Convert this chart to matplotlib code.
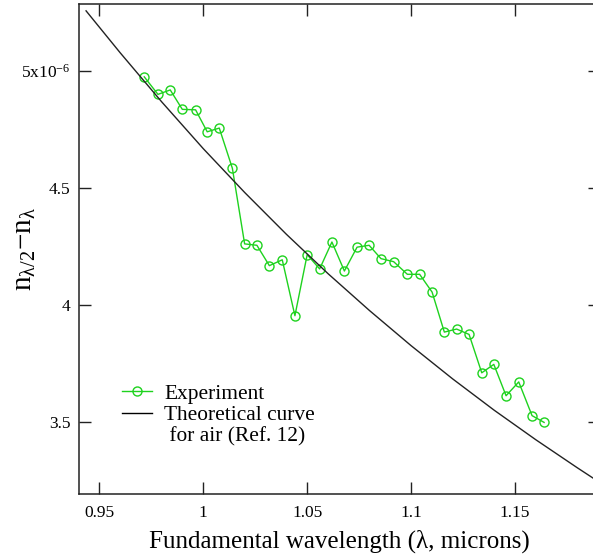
import matplotlib
matplotlib.use("Agg")
import matplotlib.pyplot as plt
from matplotlib.lines import Line2D

plt.rcParams['font.family'] = ['Liberation Serif', 'DejaVu Serif']
plt.rcParams['mathtext.fontset'] = 'custom'
plt.rcParams['mathtext.rm'] = 'Liberation Serif'
plt.rcParams['mathtext.it'] = 'Liberation Serif:italic'

# Experimental data (wavelength in microns, n_{λ/2}-n_λ in units of 1e-6)
exp_x = [0.9716, 0.9782, 0.9841, 0.9899, 0.9963, 1.0019, 1.0077, 1.0140,
         1.0199, 1.0258, 1.0318, 1.0380, 1.0441, 1.0500, 1.0560, 1.0619,
         1.0679, 1.0740, 1.0798, 1.0855, 1.0916, 1.0982, 1.1041, 1.1101,
         1.1160, 1.1219, 1.1279, 1.1340, 1.1398, 1.1457, 1.1518, 1.1582,
         1.1640]
exp_y = [4.974, 4.899, 4.918, 4.835, 4.833, 4.739, 4.755, 4.583,
         4.260, 4.254, 4.167, 4.192, 3.953, 4.214, 4.153, 4.268,
         4.144, 4.246, 4.254, 4.197, 4.184, 4.130, 4.130, 4.054,
         3.883, 3.896, 3.873, 3.709, 3.745, 3.611, 3.670, 3.526,
         3.497]

# Theoretical curve for air
theo_x = [0.9436, 0.96, 0.98, 1.00, 1.02, 1.04, 1.06, 1.08, 1.10,
          1.12, 1.14, 1.16, 1.18, 1.191]
theo_y = [5.256, 5.077, 4.867, 4.667, 4.479, 4.301, 4.133, 3.975, 3.825,
          3.683, 3.549, 3.423, 3.303, 3.239]

xticks = [0.95, 1.0, 1.05, 1.1, 1.15]
xtick_labels = ['0.95', '1', '1.05', '1.1', '1.15']
yticks = [3.5, 4.0, 4.5, 5.0]
ytick_labels = ['3.5', '4', '4.5', r'5x10$^{\mathrm{-6}}$']

W, H = 593, 556
fig = plt.figure(figsize=(W / 100, H / 100), dpi=100)
left, right, top, bottom = 79, 600, 4.3, 494
ax = fig.add_axes([left / W, 1 - bottom / H, (right - left) / W, (bottom - top) / H])

green = '#1ed21e'
ax.plot(exp_x, exp_y, color=green, lw=1.0, marker='o', ms=6.5, mfc='none',
        mec=green, mew=1.0)
ax.plot(theo_x, theo_y, color='#222222', lw=1.0)

ax.set_xlim(0.9402, 1.1909)
ax.set_ylim(3.191, 5.284)

ax.set_xticks(xticks)
ax.set_xticklabels(xtick_labels)
ax.set_yticks(yticks)
ax.set_yticklabels(ytick_labels)

ax.tick_params(direction='in', length=8.5, width=1.0, labelsize=12.5,
               top=True, right=True, color='#222222')
ax.tick_params(axis='x', pad=8)
ax.tick_params(axis='y', pad=6)
for s in ax.spines.values():
    s.set_linewidth(1.1)
    s.set_color('#222222')

ax.set_xlabel('Fundamental wavelength (λ, microns)', fontsize=18, labelpad=6)
ax.set_ylabel(r'$\mathrm{n}_{\mathrm{\lambda/2}}\mathrm{-n}_{\mathrm{\lambda}}$', fontsize=21)
ax.yaxis.set_label_coords((38 - left) / (right - left), 0.5)

handles = [Line2D([], [], color=green, lw=1.0, marker='o', ms=6.5, mfc='none', mec=green),
           Line2D([], [], color='black', lw=1.0),
           Line2D([], [], color='none')]
labels = ['Experiment', 'Theoretical curve', ' for air (Ref. 12)']
ax.legend(handles, labels, loc='upper left',
          bbox_to_anchor=((122 - left) / (right - left), (bottom - 384) / (bottom - top)),
          frameon=False, fontsize=15.4, handlelength=1.4, handletextpad=0.56,
          labelspacing=0.05, borderpad=0, borderaxespad=0)

fig.savefig('out.png', dpi=100)
